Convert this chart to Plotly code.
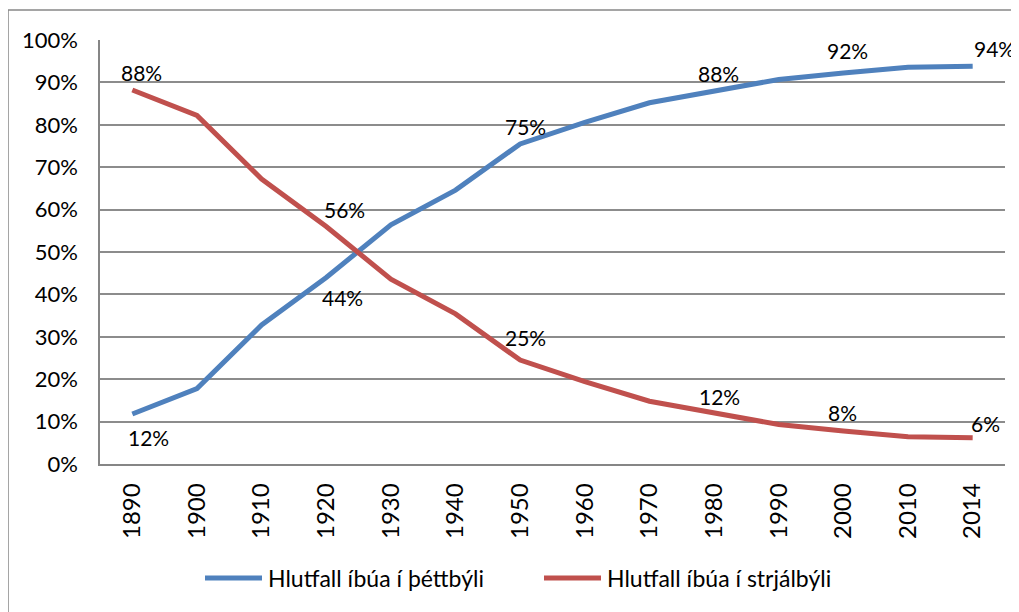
import plotly.graph_objects as go

years = ["1890", "1900", "1910", "1920", "1930", "1940", "1950", "1960",
         "1970", "1980", "1990", "2000", "2010", "2014"]
urban = [11.8, 17.8, 32.8, 44.0, 56.4, 64.6, 75.5, 80.6, 85.2, 88.1, 90.7, 92.2, 93.6, 93.8]
rural = [88.2, 82.2, 67.2, 56.0, 43.6, 35.4, 24.5, 19.4, 14.8, 11.9, 9.3, 7.8, 6.4, 6.2]
urban_labels = ["12%", "", "", "44%", "", "", "75%", "", "", "88%", "", "92%", "", "94%"]
rural_labels = ["88%", "", "", "56%", "", "", "25%", "", "", "12%", "", "8%", "", "6%"]

name_urban = "Hlutfall íbúa í þéttbýli"
name_rural = "Hlutfall íbúa í strjálbýli"

# label placement (pixel offsets from the point) — styling only
urban_dx = [16, 0, 0, 16, 0, 0, 5, 0, 0, 4, 0, 4, 0, 22]
urban_dy = [-24, 0, 0, -20, 0, 0, 17, 0, 0, 17, 0, 23, 0, 18]
rural_dx = [9, 0, 0, 18, 0, 0, 5, 0, 0, 5, 0, -1, 0, 13]
rural_dy = [18, 0, 0, 17, 0, 0, 23, 0, 0, 17, 0, 18, 0, 14]

FONT = "Lato, 'Open Sans', sans-serif"
BLUE = "#4F81BD"
RED = "#C0504D"

# page has an 8px body margin; work in figure coordinates
OFF = 8
FW, FH = 1019 - OFF, 612 - OFF
L, R, T, B = 100 - OFF, 1005 - OFF, 40 - OFF, 464 - OFF
W, H = R - L, B - T
def px(x):
    return (x - OFF - L) / W
def py(y):
    return (B - (y - OFF)) / H

fig = go.Figure()
fig.add_trace(go.Scatter(x=years, y=urban, mode="lines", name=name_urban,
                         line=dict(color=BLUE, width=5)))
fig.add_trace(go.Scatter(x=years, y=rural, mode="lines", name=name_rural,
                         line=dict(color=RED, width=5)))

for series, labels, dxs, dys in ((urban, urban_labels, urban_dx, urban_dy),
                                 (rural, rural_labels, rural_dx, rural_dy)):
    for i, (v, lab, dx, dy) in enumerate(zip(series, labels, dxs, dys)):
        if lab:
            fig.add_annotation(x=i, y=v, xref="x", yref="y", text=lab,
                               showarrow=False, xshift=dx, yshift=dy,
                               font=dict(size=21, color="#000000", family=FONT))

# outer chart border
fig.add_shape(type="rect", xref="paper", yref="paper",
              x0=px(8), x1=px(1040), y0=py(640), y1=py(10),
              line=dict(color="#888888", width=1.5), fillcolor="rgba(0,0,0,0)",
              layer="below")

# custom legend (Excel-style long line swatches)
legend_items = [(name_urban, BLUE, 205, 262, 266), (name_rural, RED, 544, 601, 605)]
LEG_Y = 578
for name, col, lx0, lx1, tx in legend_items:
    fig.add_shape(type="line", xref="paper", yref="paper",
                  x0=px(lx0), x1=px(lx1), y0=py(LEG_Y), y1=py(LEG_Y),
                  line=dict(color=col, width=5))
    fig.add_annotation(xref="paper", yref="paper", x=px(tx), y=py(LEG_Y),
                       xanchor="left", yanchor="middle", text=name, showarrow=False,
                       font=dict(size=23, color="#000000", family=FONT))

fig.update_layout(
    width=FW, height=FH,
    margin=dict(l=L, r=FW - R, t=T, b=FH - B, autoexpand=False),
    paper_bgcolor="white", plot_bgcolor="white",
    font=dict(family=FONT, size=21, color="#000000"),
    showlegend=False,
    xaxis=dict(
        type="category", range=[-0.5, 13.5], tickangle=-90,
        showgrid=False, showline=True, linecolor="#868686", linewidth=1.5,
        ticks="", tickfont=dict(size=24, family=FONT), zeroline=False,
        ticklabelstandoff=8,
    ),
    yaxis=dict(
        range=[0, 100], dtick=10, ticksuffix="%",
        showgrid=True, gridcolor="#8C8C8C", gridwidth=1.5,
        showline=True, linecolor="#868686", linewidth=1.5,
        ticks="", tickfont=dict(size=22, family=FONT), zeroline=False,
        ticklabelstandoff=16,
    ),
)

fig.write_html("out.html")
